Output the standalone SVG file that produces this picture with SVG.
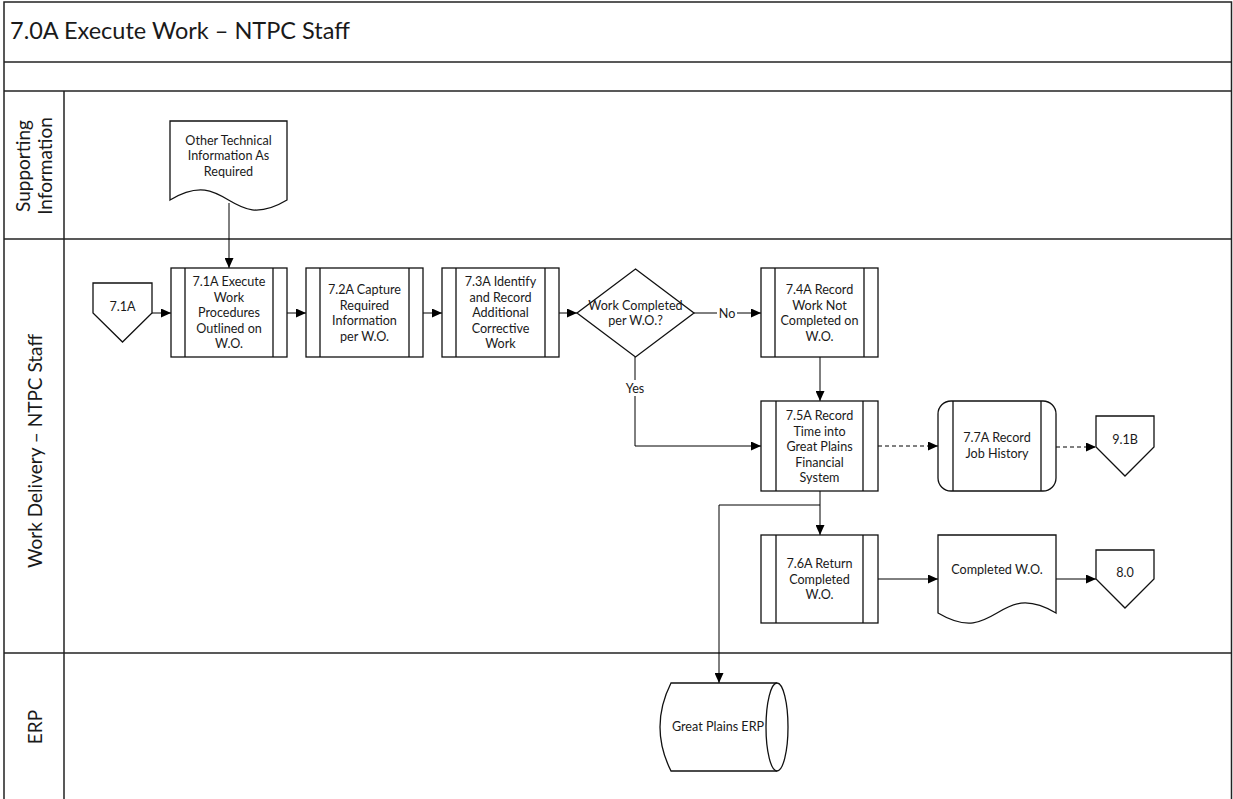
<svg xmlns="http://www.w3.org/2000/svg" width="1233" height="799" viewBox="0 0 1233 799">
<style>
.frame{fill:none;stroke:#222;stroke-width:1.5}
.box{fill:#fff;stroke:#111;stroke-width:1.3}
.bar{stroke:#111;stroke-width:1.3;fill:none}
.ln{fill:none;stroke:#000;stroke-width:1}
.dash{stroke-dasharray:4 3}
text{font-family:Lato,"Liberation Sans",sans-serif;fill:#1a1a1a}
.t{font-size:12.6px;text-anchor:middle}
.lane{font-size:19px;text-anchor:middle}
.title{font-size:23.5px}
.lbl{font-size:12.6px;text-anchor:middle}
</style>
<defs>
<marker id="arr" markerUnits="userSpaceOnUse" markerWidth="11" markerHeight="9" refX="10" refY="4.5" orient="auto">
<path d="M0,0 L10,4.5 L0,9 z" fill="#000"/>
</marker>
</defs>
<rect width="1233" height="799" fill="#fff"/>
<g id="frame">
<rect class="frame" x="4" y="2" width="1227.5" height="810"/>
<line class="frame" x1="4" y1="62" x2="1231.5" y2="62"/>
<line class="frame" x1="4" y1="91" x2="1231.5" y2="91"/>
<line class="frame" x1="4" y1="239" x2="1231.5" y2="239"/>
<line class="frame" x1="4" y1="653" x2="1231.5" y2="653"/>
<line class="frame" x1="64" y1="91" x2="64" y2="799"/>
<text class="title" x="10" y="39">7.0A Execute Work – NTPC Staff</text>
<text class="lane" transform="translate(30,166) rotate(-90)">Supporting</text>
<text class="lane" transform="translate(52,166) rotate(-90)">Information</text>
<text class="lane" transform="translate(42,451) rotate(-90)">Work Delivery – NTPC Staff</text>
<text class="lane" transform="translate(42,727) rotate(-90)">ERP</text>
</g>
<g id="connectors">
<line class="ln" x1="229" y1="203" x2="229" y2="268" marker-end="url(#arr)"/>
<line class="ln" x1="152" y1="313" x2="171" y2="313" marker-end="url(#arr)"/>
<line class="ln" x1="287" y1="313" x2="306" y2="313" marker-end="url(#arr)"/>
<line class="ln" x1="423" y1="313" x2="442" y2="313" marker-end="url(#arr)"/>
<line class="ln" x1="559" y1="313" x2="577" y2="313" marker-end="url(#arr)"/>
<line class="ln" x1="694" y1="313" x2="761" y2="313" marker-end="url(#arr)"/>
<rect x="717" y="305" width="20" height="16" fill="#fff"/>
<text class="lbl" x="727" y="317.5">No</text>
<line class="ln" x1="820" y1="357" x2="820" y2="401" marker-end="url(#arr)"/>
<polyline class="ln" points="635,357 635,446 761,446" marker-end="url(#arr)"/>
<rect x="621" y="380" width="28" height="16" fill="#fff"/>
<text class="lbl" x="635" y="392.5">Yes</text>
<line class="ln dash" x1="878" y1="446" x2="938" y2="446" marker-end="url(#arr)"/>
<line class="ln dash" x1="1056" y1="447" x2="1096" y2="447" marker-end="url(#arr)"/>
<line class="ln" x1="820" y1="491" x2="820" y2="535" marker-end="url(#arr)"/>
<polyline class="ln" points="820,505 719,505 719,683" marker-end="url(#arr)"/>
<line class="ln" x1="878" y1="579" x2="938" y2="579" marker-end="url(#arr)"/>
<line class="ln" x1="1056" y1="579" x2="1096" y2="579" marker-end="url(#arr)"/>
</g>
<g id="doc-other-info">
<path class="box" d="M170,121 H287 V200 C228.5,235 228.5,165 170,200 Z"/>
<text class="t"><tspan x="228.5" y="144.5">Other Technical</tspan><tspan x="228.5" y="160">Information As</tspan><tspan x="228.5" y="175.5">Required</tspan></text>
</g>
<g id="offpage-7-1A">
<path class="box" d="M93,283 H152 V313 L122.5,342 L93,313 Z"/>
<text class="t" x="122.5" y="311">7.1A</text>
</g>
<g id="p7-1A">
<rect class="box" x="171" y="268" width="116" height="89"/>
<path class="bar" d="M185,268 V357 M273,268 V357"/>
<text class="t"><tspan x="229" y="286">7.1A Execute</tspan><tspan x="229" y="301.5">Work</tspan><tspan x="229" y="317">Procedures</tspan><tspan x="229" y="332.5">Outlined on</tspan><tspan x="229" y="348">W.O.</tspan></text>
</g>
<g id="p7-2A">
<rect class="box" x="306" y="268" width="117" height="89"/>
<path class="bar" d="M320,268 V357 M409,268 V357"/>
<text class="t"><tspan x="364.5" y="294">7.2A Capture</tspan><tspan x="364.5" y="309.5">Required</tspan><tspan x="364.5" y="325">Information</tspan><tspan x="364.5" y="340.5">per W.O.</tspan></text>
</g>
<g id="p7-3A">
<rect class="box" x="442" y="268" width="117" height="89"/>
<path class="bar" d="M456,268 V357 M545,268 V357"/>
<text class="t"><tspan x="500.5" y="286">7.3A Identify</tspan><tspan x="500.5" y="301.5">and Record</tspan><tspan x="500.5" y="317">Additional</tspan><tspan x="500.5" y="332.5">Corrective</tspan><tspan x="500.5" y="348">Work</tspan></text>
</g>
<g id="d-work-completed">
<path class="box" d="M635.5,269 L694,313 L635.5,357 L577,313 Z"/>
<text class="t"><tspan x="635.5" y="309.5">Work Completed</tspan><tspan x="635.5" y="325">per W.O.?</tspan></text>
</g>
<g id="p7-4A">
<rect class="box" x="761" y="268" width="117" height="89"/>
<path class="bar" d="M775,268 V357 M864,268 V357"/>
<text class="t"><tspan x="819.5" y="294">7.4A Record</tspan><tspan x="819.5" y="309.5">Work Not</tspan><tspan x="819.5" y="325">Completed on</tspan><tspan x="819.5" y="340.5">W.O.</tspan></text>
</g>
<g id="p7-5A">
<rect class="box" x="761" y="401" width="117" height="90"/>
<path class="bar" d="M776,401 V491 M863,401 V491"/>
<text class="t"><tspan x="819.5" y="420">7.5A Record</tspan><tspan x="819.5" y="435.5">Time into</tspan><tspan x="819.5" y="451">Great Plains</tspan><tspan x="819.5" y="466.5">Financial</tspan><tspan x="819.5" y="482">System</tspan></text>
</g>
<g id="p7-7A">
<rect class="box" x="938" y="401" width="118" height="90" rx="13" ry="13"/>
<path class="bar" d="M953,401 V491 M1041,401 V491"/>
<text class="t"><tspan x="997" y="442">7.7A Record</tspan><tspan x="997" y="457.5">Job History</tspan></text>
</g>
<g id="offpage-9-1B">
<path class="box" d="M1096,416 H1154 V447 L1125,476 L1096,447 Z"/>
<text class="t" x="1125" y="443.5">9.1B</text>
</g>
<g id="p7-6A">
<rect class="box" x="761" y="535" width="117" height="88"/>
<path class="bar" d="M776,535 V623 M863,535 V623"/>
<text class="t"><tspan x="819.5" y="568">7.6A Return</tspan><tspan x="819.5" y="583.5">Completed</tspan><tspan x="819.5" y="599">W.O.</tspan></text>
</g>
<g id="doc-completed-wo">
<path class="box" d="M938,535 H1056 V613 C997,578 997,648 938,613 Z"/>
<text class="t" x="997" y="574">Completed W.O.</text>
</g>
<g id="offpage-8-0">
<path class="box" d="M1096,550 H1154 V579 L1125,608 L1096,579 Z"/>
<text class="t" x="1125" y="576.5">8.0</text>
</g>
<g id="db-great-plains-erp">
<path class="box" d="M777,683 H671 Q649,727 671,771 H777"/>
<ellipse class="box" cx="777" cy="727" rx="11" ry="44"/>
<text class="t" x="718" y="731">Great Plains ERP</text>
</g>
</svg>
